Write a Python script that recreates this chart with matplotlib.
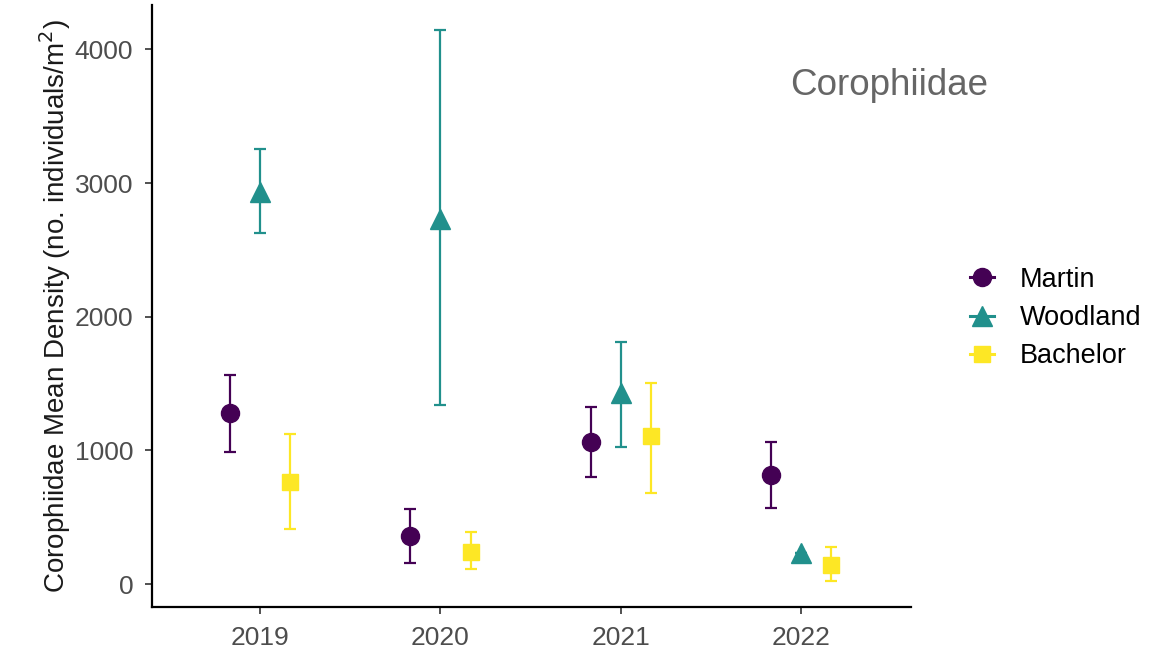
import numpy as np
import matplotlib
matplotlib.use("Agg")
import matplotlib.pyplot as plt
from matplotlib.lines import Line2D

plt.rcParams['font.family'] = ['Liberation Sans', 'DejaVu Sans']

years = [2019, 2020, 2021, 2022]
sites = ['Martin', 'Woodland', 'Bachelor']

# mean density and error bar limits per site, one value per year
martin_mean = [1281, 360, 1064, 816]
martin_low = [989, 157, 802, 569]
martin_high = [1566, 562, 1326, 1064]

woodland_mean = [2936, 2727, 1431, 232]
woodland_low = [2629, 1341, 1026, 232]
woodland_high = [3251, 4142, 1813, 232]

bachelor_mean = [764, 240, 1109, 142]
bachelor_low = [412, 112, 682, 22]
bachelor_high = [1124, 390, 1506, 277]

series = {
    'Martin': (martin_mean, martin_low, martin_high, '#440154', 'o', 13),
    'Woodland': (woodland_mean, woodland_low, woodland_high, '#21908C', '^', 15),
    'Bachelor': (bachelor_mean, bachelor_low, bachelor_high, '#FDE725', 's', 12),
}

fig = plt.figure(figsize=(11.59, 6.52), dpi=100)
ax = fig.add_axes([0.1311, 0.069, 0.655, 0.923])

dodge = {'Martin': -0.167, 'Woodland': 0.0, 'Bachelor': 0.167}
xpos = np.arange(len(years))

handles = []
for name, (m, lo, hi, col, mk, ms) in series.items():
    m = np.array(m)
    err = [m - np.array(lo), np.array(hi) - m]
    ax.errorbar(xpos + dodge[name], m, yerr=err, fmt=mk, color=col,
                markersize=ms, elinewidth=1.6, capsize=4.3, capthick=1.6)
    # legend key: point with a short line through it
    handles.append(Line2D([], [], color=col, marker=mk, markersize=ms,
                          linewidth=2.2, label=name))

ax.set_xlim(-0.6, 3.61)
ax.set_ylim(-172, 4330)
ax.set_xticks(xpos)
ax.set_xticklabels([str(y) for y in years])
ax.set_yticks([0, 1000, 2000, 3000, 4000])

for s in ['top', 'right']:
    ax.spines[s].set_visible(False)
for s in ['left', 'bottom']:
    ax.spines[s].set_linewidth(1.6)
    ax.spines[s].set_color('black')

ax.tick_params(axis='both', labelsize=19, labelcolor='#4D4D4D',
               length=5, width=1.2, color='#333333')
ax.tick_params(axis='x', pad=9)
ax.tick_params(axis='y', pad=8.5)

ax.set_ylabel('Corophiidae Mean Density (no. individuals/m$^2$)',
              fontsize=20, color='#1a1a1a', labelpad=1)

ax.text(0.971, 0.866, 'Corophiidae', transform=ax.transAxes,
        fontsize=26.5, color='#666666', ha='center', va='center')

leg = ax.legend(handles=handles, loc='center left',
                bbox_to_anchor=(1.045, 0.48), frameon=False,
                fontsize=19.5, handletextpad=0.95, labelspacing=0.45,
                handlelength=0.9)

fig.savefig('out.png', dpi=100)
